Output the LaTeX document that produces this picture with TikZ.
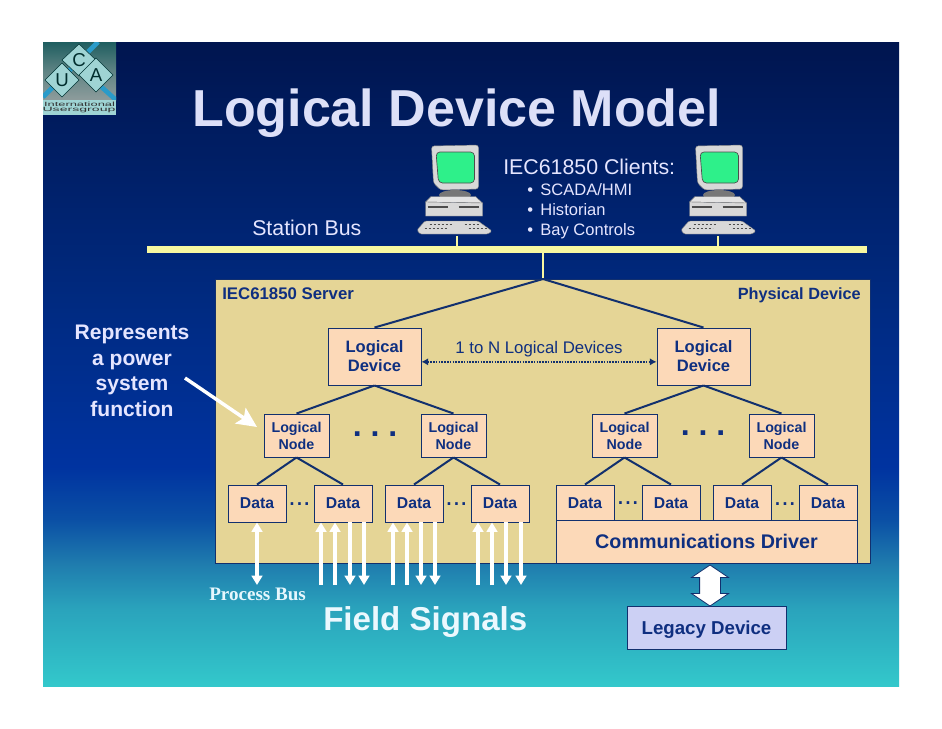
\documentclass[tikz,border=0pt]{standalone}
\usepackage{fontspec}
\setmainfont{Liberation Sans}
\newfontfamily\timesfont{Liberation Serif}
\usetikzlibrary{arrows.meta,shapes.arrows}

\definecolor{navy}{HTML}{12306E}
\definecolor{inknavy}{HTML}{0F2F80}
\definecolor{servertan}{HTML}{E5D596}
\definecolor{boxpeach}{HTML}{FCD9B8}
\definecolor{legacyblue}{HTML}{CCD0F4}
\definecolor{busyellow}{HTML}{F8F8A0}
\definecolor{titlelilac}{HTML}{DDE0F8}
\definecolor{screengreen}{HTML}{2EF08A}
\definecolor{pcgray}{HTML}{D8D8D8}
\definecolor{logoteal}{HTML}{9FD4D4}
\definecolor{bgA}{HTML}{33C8CB}
\definecolor{bgB}{HTML}{2AA3BC}
\definecolor{bgC}{HTML}{1F7CAE}
\definecolor{bgD}{HTML}{0A4FA5}
\definecolor{bgE}{HTML}{0033A0}
\definecolor{bgF}{HTML}{002A80}
\definecolor{bgG}{HTML}{00154F}
\definecolor{logoA}{HTML}{8E9C9C}
\definecolor{logoB}{HTML}{5F8484}
\definecolor{logoC}{HTML}{1F5E60}

\pgfdeclareverticalshading{slidebg}{100bp}{
	color(0bp)=(bgA);
	color(25bp)=(bgA);
	color(31bp)=(bgB);
	color(34.5bp)=(bgC);
	color(38bp)=(bgD);
	color(42bp)=(bgE);
	color(55bp)=(bgF);
	color(75bp)=(bgG);
	color(100bp)=(bgG)
}
\pgfdeclareverticalshading{logobg}{100bp}{
	color(0bp)=(logoA);
	color(25bp)=(logoA);
	color(50bp)=(logoB);
	color(75bp)=(logoC);
	color(100bp)=(logoC)
}

\newcommand{\sz}[2]{\fontsize{#1}{#2}\selectfont}

\tikzset{
	x=0.75pt,
	y=-0.75pt,
	ldbox/.style={draw=navy,fill=boxpeach,text=inknavy,line width=0.7pt,inner sep=0pt,
		minimum width=69.75pt,minimum height=42.75pt,align=center,font=\bfseries\sz{12.4}{14.25}},
	lnbox/.style={draw=navy,fill=boxpeach,text=inknavy,line width=0.7pt,inner sep=0pt,
		minimum width=48.75pt,minimum height=32.25pt,align=center,font=\bfseries\sz{10.7}{12.75}},
	databox/.style={draw=navy,fill=boxpeach,text=inknavy,line width=0.7pt,inner sep=0pt,
		minimum width=43.5pt,minimum height=27.75pt,font=\bfseries\sz{11.8}{14}},
	treeline/.style={draw=navy,line width=1.5pt},
	stem/.style={draw=busyellow,line width=1.5pt},
	sigarrow/.style={draw=white,line width=3pt,-{Triangle[length=7pt,width=8pt]}},
	bigdots/.style={text=inknavy,font=\bfseries\sz{24}{24}\frenchspacing,inner sep=0pt,anchor=base},
	smalldots/.style={text=inknavy,font=\sz{20}{20},inner sep=0pt,anchor=base},
	client/.pic={
		\fill[pcgray,draw=black!50,line width=0.3pt,rounded corners=2pt] (-23,-22) -- (24,-23) -- (24,21) -- (-14,22) -- (-21,15) -- cycle;
		\fill[screengreen,draw=black!70,line width=0.5pt,rounded corners=3pt] (-18.5,-16) -- (20,-16) -- (20,15) -- (-16,15) -- cycle;
		\fill[pcgray!55!black] (0.5,27) ellipse (16 and 5);
		\fill[pcgray!70!white,draw=black!50,line width=0.3pt] (-23.5,28.5) -- (21,28.5) -- (28,35) -- (-29,34) -- cycle;
		\fill[pcgray,draw=black!50,line width=0.3pt] (-29,34) -- (28,35) -- (28,48) -- (-29,48) -- cycle;
		\draw[black!70,line width=0.9pt] (-27,39) -- (-7,39) (4,39) -- (24,39);
		\fill[pcgray,draw=black!50,line width=0.3pt,rounded corners=1pt] (-37.5,62) -- (-29.5,53) -- (23.5,53) -- (37.5,63) -- (33.5,66) -- (-34.5,66) -- cycle;
		\draw[black!70,line width=0.6pt,dash pattern=on 2pt off 1pt] (-25,56) -- (-3,56) (10,56) -- (24,56) (-30,60) -- (-6,60) (14,60) -- (32,60);
	}
}

\begin{document}
\begin{tikzpicture}

	\useasboundingbox (0,0) rectangle (942,728);
	\fill[white] (0,0) rectangle (942,728);
	\shade[shading=slidebg] (43,42) rectangle (899,686);

	\begin{scope}
		\clip (43,42) rectangle (116,115);
		\shade[shading=logobg] (43,42) rectangle (116,100);
		\draw[cyan!60!teal,line width=3.5pt] (43,97) -- (98,42);
		\draw[cyan!60!teal,line width=3.5pt] (86,73) -- (116,100);
		\fill[logoteal,draw=black!60!teal,line width=0.4pt] (79,44) -- (96,60) -- (79,76) -- (62,60) -- cycle;
		\fill[logoteal,draw=black!60!teal,line width=0.4pt] (62,63) -- (79,80) -- (62,97) -- (45,80) -- cycle;
		\fill[logoteal,draw=black!60!teal,line width=0.4pt] (96,58) -- (113,75) -- (96,92) -- (79,75) -- cycle;
		\fill[logoteal] (43,100) rectangle (116,115);
	\end{scope}
	\node[text=black!65!teal,font=\sz{14}{14},inner sep=0pt] (markC) at (79,60) {C};
	\node[text=black!65!teal,font=\sz{14}{14},inner sep=0pt] (markU) at (62,80) {U};
	\node[text=black!65!teal,font=\sz{14}{14},inner sep=0pt] (markA) at (96,75) {A};
	\node[text=black!80,font=\sz{4.6}{4.6},inner sep=0pt] (logoInt) at (79.5,104) {\scalebox{2.1}[1]{International}};
	\node[text=black!80,font=\sz{4.6}{4.6},inner sep=0pt] (logoUsers) at (79,110) {\scalebox{2.3}[1]{Usersgroup}};

	\node[anchor=base west,inner sep=0pt,text=titlelilac,font=\bfseries\sz{39}{39}] (title) at (192,126) {Logical Device Model};

	\pic at (454.5,168) {client};
	\pic at (718.5,168) {client};
	\coordinate (pcAdrop) at (457,236);
	\coordinate (pcBdrop) at (718,236);

	\node[anchor=base west,inner sep=0pt,text=white!90!blue,font=\sz{16}{16}] (clients) at (503,174) {IEC61850 Clients:};
	\node[anchor=north west,inner sep=0pt,align=left,text=white!90!blue,font=\sz{12.4}{15}] (clientlist) at (527,183) {•\hspace{5.5pt}SCADA/HMI\\•\hspace{5.5pt}Historian\\•\hspace{5.5pt}Bay Controls};
	\node[anchor=base west,inner sep=0pt,text=white!90!blue,font=\sz{16}{16}] (stationbus) at (252,235) {Station Bus};

	\node[fill=busyellow,inner sep=0pt,minimum width=540pt,minimum height=5.25pt] (bus) at (507,249.5) {};
	\draw[stem] (pcAdrop) -- (pcAdrop |- bus.north);
	\draw[stem] (pcBdrop) -- (pcBdrop |- bus.north);

	\node[draw=navy,fill=servertan,line width=0.7pt,inner sep=0pt,minimum width=491.25pt,minimum height=213pt] (server) at (542.5,421) {};
	\coordinate (busdrop) at (543,279);
	\draw[stem] (bus.south -| busdrop) -- (busdrop);

	\node[anchor=base west,inner sep=0pt,text=inknavy,font=\bfseries\sz{12.6}{14}] (serverlabel) at (222,299) {IEC61850 Server};
	\node[anchor=base east,inner sep=0pt,text=inknavy,font=\bfseries\sz{12.2}{14}] (devicelabel) at (861,299) {Physical Device};

	\node[ldbox] (ldA) at (374.5,356.5) {Logical\\Device};
	\node[ldbox] (ldB) at (703.5,356.5) {Logical\\Device};

	\node[lnbox] (lnA) at (296.5,435.5) {Logical\\Node};
	\node[lnbox] (lnB) at (453.5,435.5) {Logical\\Node};
	\node[lnbox] (lnC) at (624.5,435.5) {Logical\\Node};
	\node[lnbox] (lnD) at (781.5,435.5) {Logical\\Node};

	\node[databox] (dataA) at (257,503.5) {Data};
	\node[databox] (dataB) at (343,503.5) {Data};
	\node[databox] (dataC) at (414,503.5) {Data};
	\node[databox] (dataD) at (500,503.5) {Data};
	\node[databox] (dataE) at (585,503.5) {Data};
	\node[databox] (dataF) at (671,503.5) {Data};
	\node[databox] (dataG) at (742,503.5) {Data};
	\node[databox] (dataH) at (828,503.5) {Data};

	\node[draw=navy,fill=boxpeach,text=inknavy,line width=0.7pt,inner sep=0pt,minimum width=225.75pt,minimum height=32.25pt,font=\bfseries\sz{14.8}{16}] (driver) at (706.5,541.5) {Communications Driver};
	\node[draw=navy,fill=legacyblue,text=inknavy,line width=0.7pt,inner sep=0pt,minimum width=119.25pt,minimum height=32.25pt,text depth=0pt,font=\bfseries\sz{14}{16}] (legacy) at (706.5,627.5) {Legacy Device};

	\draw[treeline] (busdrop) -- (ldA.north);
	\draw[treeline] (busdrop) -- (ldB.north);
	\foreach \a/\b in {ldA/lnA,ldA/lnB,ldB/lnC,ldB/lnD,lnA/dataA,lnA/dataB,lnB/dataC,lnB/dataD,lnC/dataE,lnC/dataF,lnD/dataG,lnD/dataH}
		\draw[treeline] (\a.south) -- (\b.north);

	\draw[navy,line width=1.1pt,dash pattern=on 1.1pt off 1pt,{Latex[length=5pt,width=5.5pt]}-{Latex[length=5pt,width=5.5pt]}] ([yshift=-4pt]ldA.east) -- ([yshift=-4pt]ldB.west)
		node[midway,above=3pt,inner sep=0pt,text=inknavy,font=\sz{12.6}{14}] (ldrange) {1 to N Logical Devices};

	\node[bigdots] (dotsA) at (375,436) {. . .};
	\node[bigdots] (dotsB) at (703,435) {. . .};
	\node[smalldots] (gapA) at (299.5,505) {...};
	\node[smalldots] (gapB) at (456.5,505) {...};
	\node[smalldots] (gapC) at (628,504) {...};
	\node[smalldots] (gapD) at (785,505) {...};

	\coordinate (pbus) at (257,585);
	\draw[draw=white,line width=3pt,{Triangle[length=7pt,width=8pt]}-{Triangle[length=7pt,width=8pt]}] (dataA.south) -- (pbus);
	\foreach \x/\d [count=\n] in {321/dataB,335/dataB,393/dataC,407/dataC,478/dataD,492/dataD} {
		\coordinate (up\n) at (\x,585);
		\draw[sigarrow] (up\n) -- (up\n |- \d.south);
	}
	\foreach \x/\d [count=\n] in {350/dataB,364/dataB,421/dataC,435/dataC,506/dataD,521/dataD} {
		\coordinate (down\n) at (\x,585);
		\draw[sigarrow] (down\n |- \d.south) -- (down\n);
	}

	\node[double arrow,shape border rotate=90,draw=navy,fill=white,line width=0.6pt,inner xsep=7.5pt,inner ysep=0pt,minimum height=30.75pt,double arrow head extend=6pt,double arrow head indent=0pt,double arrow tip angle=112] (legacylink) at (710,585.5) {};

	\node[align=center,inner sep=0pt,text=white!90!blue,font=\bfseries\sz{15.8}{19.2}] (represents) at (132,371) {Represents\\a power\\system\\function};
	\coordinate (pointfrom) at (185,378);
	\coordinate (pointto) at (257,427);
	\draw[white,line width=2.6pt,-{Stealth[length=15pt,width=14pt,inset=3pt]}] (pointfrom) -- (pointto);

	\node[anchor=base west,inner sep=0pt,text=white!90!cyan,font=\timesfont\bfseries\sz{14.3}{16}] (processbus) at (209,600) {Process Bus};
	\node[anchor=base west,inner sep=0pt,text=white!92!cyan,font=\bfseries\sz{24.8}{26}] (fieldsignals) at (323,630) {Field Signals};

\end{tikzpicture}
\end{document}
